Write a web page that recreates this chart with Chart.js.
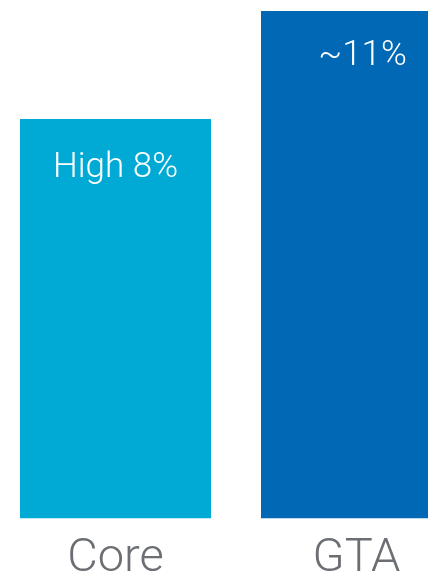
<!DOCTYPE html>
<html>
<head>
<meta charset="utf-8">
<script src="https://cdn.jsdelivr.net/npm/chart.js@4.4.1/dist/chart.umd.min.js"></script>
<style>
  html, body { margin: 0; padding: 0; background: #fff; overflow: hidden; }
  #wrap { position: relative; width: 482px; height: 599px; margin-left: -5px; }
</style>
</head>
<body>
<div id="wrap"><canvas id="gainChart"></canvas></div>
<script>
const categories = ['Core', 'GTA'];
const gains = [8.66, 11];
const barLabels = ['High 8%', '~11%'];
const barColors = ['#00aad4', '#0068b5'];

// white text near the top of each bar
const barTextPlugin = {
  id: 'barText',
  afterDatasetsDraw(chart) {
    const ctx = chart.ctx;
    const meta = chart.getDatasetMeta(0);
    ctx.save();
    ctx.fillStyle = '#ffffff';
    ctx.font = '300 35px Roboto';
    ctx.textAlign = 'center';
    ctx.textBaseline = 'alphabetic';
    meta.data.forEach((bar, i) => {
      ctx.fillText(barLabels[i], bar.x + (i === 1 ? 6 : 0), bar.y + (i === 1 ? 54 : 58));
    });
    ctx.restore();
  }
};

new Chart(document.getElementById('gainChart'), {
  type: 'bar',
  data: {
    labels: categories,
    datasets: [{
      data: gains,
      backgroundColor: barColors,
      borderWidth: 0,
      barPercentage: 0.7925,
      categoryPercentage: 1
    }]
  },
  options: {
    responsive: true,
    maintainAspectRatio: false,
    animation: false,
    layout: { padding: { top: 11, left: 0, right: 0, bottom: 0 } },
    plugins: {
      legend: { display: false },
      tooltip: { enabled: false }
    },
    scales: {
      x: {
        grid: { display: false, drawTicks: false },
        border: { display: false },
        ticks: {
          color: '#6b6e72',
          font: { family: 'Roboto', size: 47, weight: 300 },
          padding: 12
        }
      },
      y: {
        display: false,
        min: 0,
        max: 11
      }
    }
  },
  plugins: [barTextPlugin]
});
</script>
</body>
</html>
